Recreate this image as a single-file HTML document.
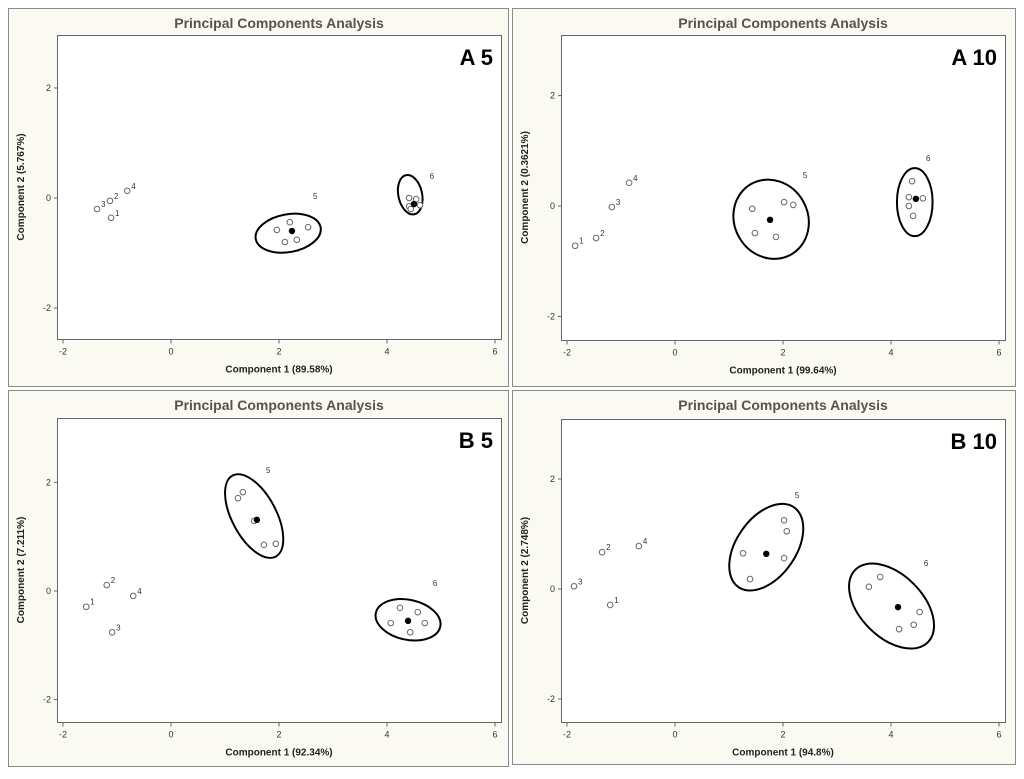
<!DOCTYPE html>
<html><head><meta charset="utf-8"><style>
body{margin:0;background:#fff;width:1024px;height:774px;overflow:hidden;font-family:"Liberation Sans",sans-serif}
</style></head><body>
<svg id="chart" width="1024" height="774" xmlns="http://www.w3.org/2000/svg" font-family="Liberation Sans, sans-serif"></svg>
<script>
// Panel data (values in component units)
const panelNames = ["A 5","A 10","B 5","B 10"];
const xLabels = ["Component 1 (89.58%)","Component 1 (99.64%)","Component 1 (92.34%)","Component 1 (94.8%)"];
const yLabels = ["Component 2 (5.767%)","Component 2 (0.3621%)","Component 2 (7.211%)","Component 2 (2.748%)"];
const xTicks = [-2,0,2,4,6];
const yTicks = [-2,0,2];
const labelsSingle = ["1","2","3","4"];
// single points 1-4 for each panel [x,y]
const singles = [
  [[-1.11,-0.36],[-1.13,-0.05],[-1.37,-0.2],[-0.81,0.13]],
  [[-1.85,-0.72],[-1.46,-0.58],[-1.17,-0.02],[-0.85,0.42]],
  [[-1.57,-0.29],[-1.19,0.11],[-1.09,-0.76],[-0.7,-0.09]],
  [[-1.2,-0.29],[-1.35,0.67],[-1.87,0.05],[-0.67,0.78]]
];
// group 5 replicates
const group5 = [
  [[1.96,-0.58],[2.2,-0.44],[2.54,-0.53],[2.11,-0.8],[2.33,-0.76]],
  [[1.43,-0.05],[1.48,-0.49],[2.02,0.07],[2.19,0.02],[1.87,-0.56]],
  [[1.24,1.71],[1.33,1.82],[1.54,1.29],[1.72,0.85],[1.94,0.87]],
  [[1.26,0.65],[1.39,0.18],[2.02,1.25],[2.07,1.05],[2.02,0.56]]
];
const group6 = [
  [[4.41,0],[4.54,-0.02],[4.61,-0.13],[4.41,-0.15],[4.44,-0.2]],
  [[4.39,0.45],[4.33,0.16],[4.33,0],[4.41,-0.18],[4.59,0.14]],
  [[4.24,-0.31],[4.07,-0.59],[4.57,-0.39],[4.7,-0.59],[4.43,-0.76]],
  [[3.59,0.04],[3.8,0.22],[4.53,-0.42],[4.42,-0.65],[4.15,-0.73]]
];
const centroid5 = [[2.24,-0.6],[1.76,-0.25],[1.59,1.31],[1.69,0.64]];
const centroid6 = [[4.5,-0.11],[4.46,0.13],[4.39,-0.55],[4.13,-0.33]];
// ellipses: [cx, cy, semi-axis a, semi-axis b (x-units), angle deg]
const ellipse5 = [[2.17,-0.64,0.61,0.35,-10],[1.78,-0.24,0.68,0.75,-30],[1.54,1.38,0.85,0.41,62],[1.69,0.76,0.9,0.55,-55]];
const ellipse6 = [[4.43,0.06,0.22,0.37,-12],[4.44,0.07,0.33,0.63,0],[4.39,-0.53,0.61,0.37,12],[4.01,-0.31,0.95,0.58,45]];
const label5Pos = [[2.67,0.04],[2.41,0.56],[1.8,2.23],[2.26,1.71]];
const label6Pos = [[4.83,0.4],[4.69,0.87],[4.89,0.15],[4.65,0.47]];

const layouts = [
  {fx:8,fy:8,fw:500,fh:378,px:57,py:35,pw:444,ph:304,x0:171,sx:54,y0:198,sy:55},
  {fx:512,fy:8,fw:503,fh:378,px:561,py:35,pw:444,ph:305,x0:675,sx:54,y0:206,sy:55.2},
  {fx:8,fy:390,fw:500,fh:376,px:57,py:418,pw:444,ph:304,x0:171,sx:54,y0:591,sy:54.3},
  {fx:512,fy:390,fw:503,fh:374,px:561,py:419,pw:444,ph:303,x0:675,sx:54,y0:589,sy:55}
];
const svg = document.getElementById('chart');
const NS = 'http://www.w3.org/2000/svg';
function mk(tag, attrs, parent){const e=document.createElementNS(NS,tag);for(const k in attrs)e.setAttribute(k,attrs[k]);(parent||svg).appendChild(e);return e;}

layouts.forEach((L,i)=>{
  const g = mk('g',{});
  
  
  const X = v=>L.x0+L.sx*v, Y = v=>L.y0-L.sy*v;
  const fr = mk('rect',{x:L.fx+0.5,y:L.fy+0.5,width:L.fw,height:L.fh,fill:'#fbfaf2',stroke:'#8a8a8a','stroke-width':1},g);
  
  
  const t = mk('text',{x:L.px+L.pw/2,y:L.fy+20,'text-anchor':'middle','font-size':14,'font-weight':'bold',fill:'#57544a'},g);
  t.textContent='Principal Components Analysis';
  
  
  const pa = mk('rect',{x:L.px+0.5,y:L.py+0.5,width:L.pw,height:L.ph,fill:'#fff',stroke:'#666','stroke-width':1},g);
  
  
  const pl = mk('text',{x:L.px+L.pw-8,y:L.py+30,'text-anchor':'end','font-size':22,'font-weight':'bold',fill:'#000'},g);
  pl.textContent=panelNames[i];
  
  
  const by = L.py+L.ph+0.5;
  xTicks.forEach(v=>{
    mk('line',{x1:X(v),x2:X(v),y1:by,y2:by+4,stroke:'#666'},g);
    const tt=mk('text',{x:X(v),y:by+15,'text-anchor':'middle','font-size':9,fill:'#333'},g);
    tt.textContent=String(v);
    
    
  });
  yTicks.forEach(v=>{
    mk('line',{x1:L.px-3,x2:L.px+0.5,y1:Y(v),y2:Y(v),stroke:'#666'},g);
    const tt=mk('text',{x:L.px-6,y:Y(v)+3,'text-anchor':'end','font-size':9,fill:'#333'},g);
    tt.textContent=String(v);
    
    
  });
  const xt=mk('text',{x:L.px+L.pw/2,y:by+33,'text-anchor':'middle','font-size':10,'font-weight':'bold',fill:'#222'},g);
  xt.textContent=xLabels[i];
  
  
  const yx=L.fx+16, yy=L.py+L.ph/2;
  const yt=mk('text',{x:yx,y:yy,'text-anchor':'middle','font-size':10,'font-weight':'bold',fill:'#222',transform:`rotate(-90 ${yx} ${yy})`},g);
  yt.textContent=yLabels[i];
  
  
  // ellipses
  [[ellipse5[i],'ellipse-group-5'],[ellipse6[i],'ellipse-group-6']].forEach(([e,n])=>{
    const el=mk('ellipse',{cx:X(e[0]),cy:Y(e[1]),rx:e[2]*L.sx,ry:e[3]*L.sx,fill:'none',stroke:'#000','stroke-width':2,transform:`rotate(${e[4]} ${X(e[0])} ${Y(e[1])})`},g);
    
    
  });
  // open points
  const opens=[].concat(singles[i],group5[i],group6[i]);
  opens.forEach(p=>{
    const c=mk('circle',{cx:X(p[0]),cy:Y(p[1]),r:2.8,fill:'#fff',stroke:'#666','stroke-width':1},g);
    
    
  });
  singles[i].forEach((p,k)=>{
    const lt=mk('text',{x:X(p[0])+4,y:Y(p[1])-2,'font-size':8,fill:'#333'},g);
    lt.textContent=labelsSingle[k];
    
    
  });
  [centroid5[i],centroid6[i]].forEach(p=>{
    const c=mk('circle',{cx:X(p[0]),cy:Y(p[1]),r:3.2,fill:'#000'},g);
    
    
  });
  [[label5Pos[i],'5'],[label6Pos[i],'6']].forEach(([p,s])=>{
    const lt=mk('text',{x:X(p[0]),y:Y(p[1])+3,'font-size':8,fill:'#333','text-anchor':'middle'},g);
    lt.textContent=s;
    
    
  });
});
</script>
</body></html>
